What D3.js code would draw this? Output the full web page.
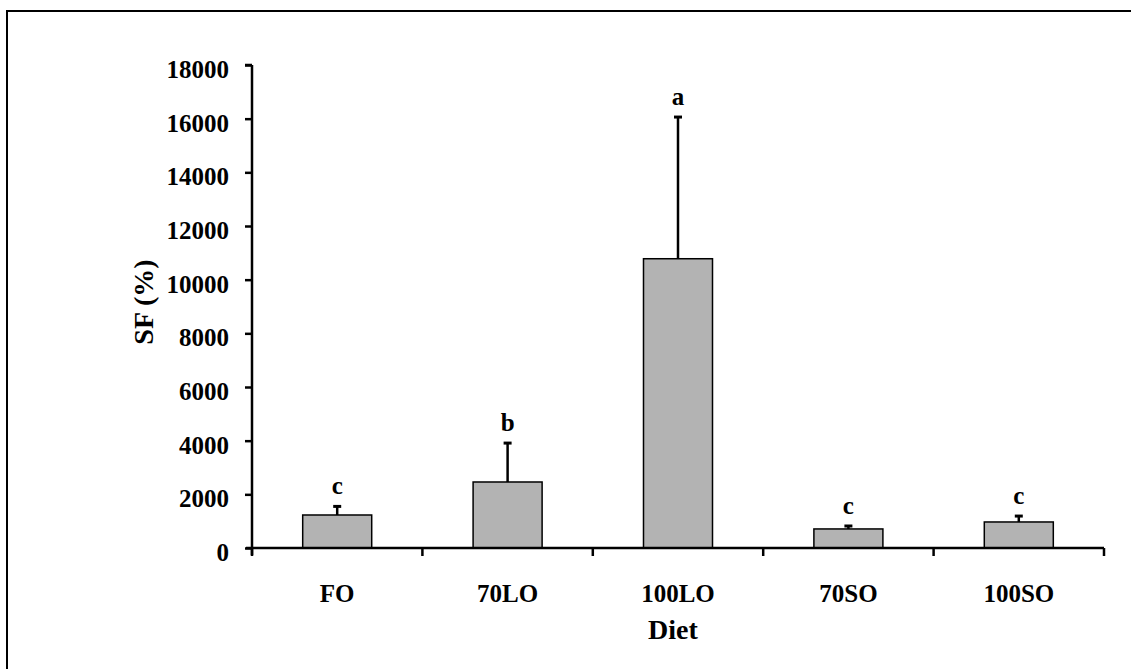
<!DOCTYPE html>
<html>
<head>
<meta charset="utf-8">
<script src="https://cdn.jsdelivr.net/npm/d3@7"></script>
<style>
  html, body { margin: 0; padding: 0; background: #fff; }
  svg { display: block; }
  text { font-family: "Liberation Serif", "Times New Roman", serif; font-weight: bold; fill: #000; }
</style>
</head>
<body>
<svg id="chart" width="1131" height="669"></svg>
<script>
const categories = ["FO", "70LO", "100LO", "70SO", "100SO"];
const means = [1230, 2460, 10780, 710, 970];
const errors = [320, 1450, 5280, 110, 220];
const letters = ["c", "b", "a", "c", "c"];
const yTicks = [0, 2000, 4000, 6000, 8000, 10000, 12000, 14000, 16000, 18000];

(function () {
const svg = d3.select("#chart");

// outer frame (right and bottom edges fall outside the picture)
svg.append("rect")
  .attr("x", 7).attr("y", 11)
  .attr("width", 1140).attr("height", 680)
  .attr("fill", "none").attr("stroke", "#000").attr("stroke-width", 2);

const mLeft = 252, mRight = 1104, mTop = 65, mBottom = 548;

const x = d3.scaleBand().domain(categories).range([mLeft, mRight])
  .paddingInner(0.595).paddingOuter(0.2975);
const y = d3.scaleLinear().domain([0, 18000]).range([mBottom, mTop]);

// bars
svg.append("g").selectAll("rect")
  .data(categories)
  .join("rect")
  .attr("x", d => x(d))
  .attr("width", x.bandwidth())
  .attr("y", (d, i) => y(means[i]))
  .attr("height", (d, i) => y(0) - y(means[i]))
  .attr("fill", "#b3b3b3")
  .attr("stroke", "#000")
  .attr("stroke-width", 1.5);

// error bars (upper only)
const eg = svg.append("g").attr("stroke", "#000");
categories.forEach((d, i) => {
  const cx = x(d) + x.bandwidth() / 2;
  eg.append("line")
    .attr("x1", cx).attr("x2", cx)
    .attr("y1", y(means[i])).attr("y2", y(means[i] + errors[i]))
    .attr("stroke-width", 2.5);
  eg.append("line")
    .attr("x1", cx - 4).attr("x2", cx + 4)
    .attr("y1", y(means[i] + errors[i])).attr("y2", y(means[i] + errors[i]))
    .attr("stroke-width", 3);
});

// significance letters
svg.append("g").selectAll("text")
  .data(categories)
  .join("text")
  .attr("x", d => x(d) + x.bandwidth() / 2)
  .attr("y", (d, i) => y(means[i] + errors[i]) - 12)
  .attr("text-anchor", "middle")
  .attr("font-size", 25)
  .text((d, i) => letters[i]);

// y axis
const yAxis = svg.append("g")
  .attr("transform", `translate(${mLeft},0)`)
  .call(d3.axisLeft(y).tickValues(yTicks).tickSize(7).tickPadding(16).tickFormat(d3.format("d")));
yAxis.select(".domain").attr("stroke-width", 2.5).attr("d", `M0,${mTop}H-7M0,${mTop}V${mBottom + 7}`);
yAxis.selectAll(".tick line").attr("stroke-width", 2.5);
yAxis.selectAll(".tick text")
  .attr("font-size", 25)
  .attr("font-family", "Liberation Serif")
  .attr("font-weight", "bold")
  .attr("dy", "0.5em");

// x axis line and boundary ticks
const xAxis = svg.append("g")
  .attr("transform", `translate(0,${mBottom})`)
  .call(d3.axisBottom(x).tickSize(0).tickPadding(36));
xAxis.select(".domain").attr("stroke-width", 2.5).attr("d", `M${mLeft - 6},0H${mRight}`);
xAxis.selectAll(".tick text")
  .attr("font-size", 25)
  .attr("font-family", "Liberation Serif")
  .attr("font-weight", "bold");

const gap = (x.step() - x.bandwidth()) / 2;
const bounds = categories.map(d => x(d) - gap).concat([x(categories[categories.length - 1]) + x.bandwidth() + gap]);
svg.append("g").selectAll("line")
  .data(bounds)
  .join("line")
  .attr("x1", d => d).attr("x2", d => d)
  .attr("y1", mBottom).attr("y2", mBottom + 8)
  .attr("stroke", "#000").attr("stroke-width", 2.5);

// axis titles
svg.append("text")
  .attr("x", 673).attr("y", 639)
  .attr("text-anchor", "middle")
  .attr("font-size", 28)
  .text("Diet");

svg.append("text")
  .attr("transform", "translate(153,302) rotate(-90)")
  .attr("text-anchor", "middle")
  .attr("font-size", 28)
  .text("SF (%)");
})();
</script>
</body>
</html>
